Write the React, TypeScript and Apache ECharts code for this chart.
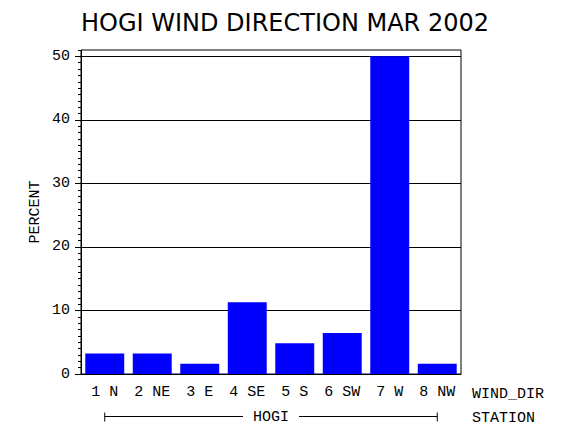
import React, { useEffect, useRef } from 'react';
import * as echarts from 'echarts';

const windDirs = ['1 N', '2 NE', '3 E', '4 SE', '5 S', '6 SW', '7 W', '8 NW'];
const percents = [3.23, 3.23, 1.61, 11.29, 4.84, 6.45, 50.0, 1.61];
const yTicks = [0, 10, 20, 30, 40, 50];
const station = 'HOGI';

const mono = '"Liberation Mono", "DejaVu Sans Mono", monospace';
const gridRight = 109;

const App: React.FC = () => {
  const chartRef = useRef<HTMLDivElement>(null);

  useEffect(() => {
    document.body.style.margin = '0';
    if (!chartRef.current) return;
    const chart = echarts.init(chartRef.current, null, { renderer: 'svg' });

    chart.setOption({
      animation: false,
      title: {
        text: 'HOGI WIND DIRECTION MAR 2002',
        left: 'center',
        top: 6,
        textStyle: { fontFamily: '"DejaVu Sans", sans-serif', fontSize: 24, fontWeight: 'normal', color: '#000' }
      },
      grid: {
        left: 81,
        right: gridRight,
        top: 50,
        bottom: 56,
        show: true,
        borderColor: '#000',
        borderWidth: 1
      },
      xAxis: {
        type: 'category',
        data: windDirs,
        axisLine: { lineStyle: { color: '#000' } },
        axisTick: { show: false },
        axisLabel: { color: '#000', fontFamily: mono, fontSize: 15, margin: 11 }
      },
      yAxis: [
        {
          type: 'value',
          min: 0,
          max: 51,
          interval: 10,
          name: 'PERCENT',
          nameLocation: 'middle',
          nameGap: 38,
          nameMoveOverlap: false,
          nameTextStyle: { color: '#000', fontFamily: mono, fontSize: 15 },
          axisLine: { show: true, lineStyle: { color: '#000' } },
          axisTick: { show: true, length: 6, lineStyle: { color: '#000' }, customValues: yTicks },
          axisLabel: {
            color: '#000',
            fontFamily: mono,
            fontSize: 15,
            margin: 11,
            customValues: yTicks,
            formatter: (v: number) => (v % 10 === 0 ? String(v) : '')
          },
          splitLine: { show: true, lineStyle: { color: '#000', width: 1 } }
        },
        {
          type: 'value',
          min: 0,
          max: 51,
          interval: 1,
          position: 'left',
          axisLine: { show: false },
          axisTick: { show: true, length: 3, lineStyle: { color: '#000' } },
          axisLabel: { show: false },
          splitLine: { show: false }
        }
      ],
      series: [
        {
          type: 'bar',
          data: percents,
          barCategoryGap: '18%',
          itemStyle: { color: '#0000ff' }
        }
      ]
    });

    const xFirst = chart.convertToPixel({ xAxisIndex: 0 }, windDirs[0]) as number;
    const xLast = chart.convertToPixel({ xAxisIndex: 0 }, windDirs[windDirs.length - 1]) as number;
    const yBase = chart.convertToPixel({ yAxisIndex: 0 }, 0) as number;
    const rowY = Math.round(yBase + 42) + 0.5;
    const nameX = chart.getWidth() - gridRight + 11;
    const txt = { fill: '#000', font: `15px ${mono}` };

    chart.setOption({
      graphic: [
        { type: 'line', shape: { x1: xFirst, y1: rowY, x2: xLast, y2: rowY }, style: { stroke: '#000', lineWidth: 1 } },
        { type: 'line', shape: { x1: xFirst, y1: rowY - 4, x2: xFirst, y2: rowY + 5 }, style: { stroke: '#000', lineWidth: 1 } },
        { type: 'line', shape: { x1: xLast, y1: rowY - 4, x2: xLast, y2: rowY + 5 }, style: { stroke: '#000', lineWidth: 1 } },
        {
          type: 'text',
          x: (xFirst + xLast) / 2,
          y: rowY + 1,
          z: 10,
          style: { ...txt, text: station, align: 'center', verticalAlign: 'middle', backgroundColor: '#fff', padding: [0, 10] }
        },
        { type: 'text', x: nameX, y: yBase + 20, style: { ...txt, text: 'WIND_DIR', align: 'left', verticalAlign: 'middle' } },
        { type: 'text', x: nameX, y: rowY + 2, style: { ...txt, text: 'STATION', align: 'left', verticalAlign: 'middle' } }
      ]
    });

    return () => chart.dispose();
  }, []);

  return <div ref={chartRef} style={{ width: 570, height: 430 }} />;
};

export default App;
